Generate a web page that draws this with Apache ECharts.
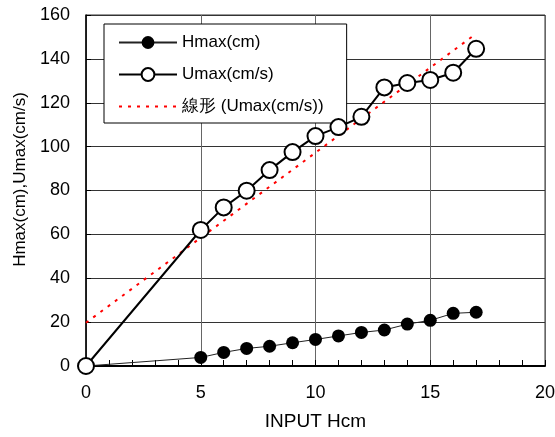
<!DOCTYPE html>
<html>
<head>
<meta charset="utf-8">
<script src="https://cdn.jsdelivr.net/npm/echarts@6/dist/echarts.min.js"></script>
<style>html,body{margin:0;padding:0;background:#fff}#c{width:555px;height:437px}</style>
</head>
<body>
<div id="c"></div>
<script>
const inputX = [0, 5, 6, 7, 8, 9, 10, 11, 12, 13, 14, 15, 16, 17];
const hmax = [0, 3.9, 6.2, 8.0, 9.0, 10.6, 12.1, 13.7, 15.3, 16.4, 19.1, 20.8, 24.0, 24.5];
const umax = [0, 62.0, 72.3, 79.9, 89.3, 97.5, 104.8, 108.9, 113.6, 127.0, 129.0, 130.4, 133.7, 144.6];
const trendX = [0, 17];
const trendY = [19.7, 151.5];
const seriesNames = ['Hmax(cm)', 'Umax(cm/s)', '線形 (Umax(cm/s))'];
const xTitle = 'INPUT Hcm';
const yTitle = 'Hmax(cm),Umax(cm/s)';

const pair = (xs, ys) => xs.map((x, i) => [x, ys[i]]);
const FONT = '"Liberation Sans", Arial, sans-serif';

const chart = echarts.init(document.getElementById('c'), null, {renderer: 'canvas'});
chart.setOption({
  animation: false,
  backgroundColor: '#fff',
  textStyle: {fontFamily: FONT},
  grid: {left: 86, right: 10, top: 15, bottom: 71, show: true, borderColor: '#333', borderWidth: 1,
         outerBoundsMode: 'none', containLabel: false},
  legend: {
    orient: 'vertical', left: 104, top: 24,
    data: seriesNames,
    backgroundColor: '#fff', borderColor: '#000', borderWidth: 1,
    padding: [10, 23, 8, 14],
    itemGap: 15, itemWidth: 58, itemHeight: 16,
    textStyle: {fontSize: 17, color: '#000', fontFamily: FONT}
  },
  xAxis: {
    type: 'value', min: 0, max: 20, interval: 5,
    name: xTitle, nameLocation: 'middle', nameGap: 46,
    nameTextStyle: {fontSize: 19, color: '#000', fontFamily: FONT},
    axisLine: {show: true, onZero: false, lineStyle: {color: '#000', width: 2}},
    axisTick: {show: true, inside: true, length: 6, lineStyle: {color: '#000'}},
    minorTick: {show: true, splitNumber: 5, length: 6, lineStyle: {color: '#000'}},
    axisLabel: {fontSize: 18, color: '#000', margin: 18, fontFamily: FONT},
    splitLine: {show: true, lineStyle: {color: '#666', width: 1}}
  },
  yAxis: {
    type: 'value', min: 0, max: 160, interval: 20,
    name: yTitle, nameLocation: 'middle', nameGap: 55,
    nameTextStyle: {fontSize: 17, color: '#000', fontFamily: FONT, padding: [0, 0, 0, 22]},
    axisLine: {show: true, onZero: false, lineStyle: {color: '#000', width: 1.5}},
    axisTick: {show: true, inside: true, length: 5, lineStyle: {color: '#000'}},
    axisLabel: {fontSize: 18, color: '#000', margin: 16, fontFamily: FONT},
    splitLine: {show: true, lineStyle: {color: '#333', width: 1}}
  },
  series: [
    {
      name: seriesNames[0], type: 'line', data: pair(inputX, hmax), z: 3,
      symbol: 'circle', symbolSize: 13,
      lineStyle: {color: '#222', width: 1},
      itemStyle: {color: '#000', borderColor: '#000', borderWidth: 0}
    },
    {
      name: seriesNames[2], type: 'line', data: pair(trendX, trendY), z: 4,
      symbol: 'circle', showSymbol: false, symbolSize: 0,
      lineStyle: {color: '#ff0000', width: 2, type: [3, 6]},
      itemStyle: {color: 'rgba(0,0,0,0)', borderWidth: 0}
    },
    {
      name: seriesNames[1], type: 'line', data: pair(inputX, umax), z: 5,
      symbol: 'circle', symbolSize: 16,
      lineStyle: {color: '#000', width: 2},
      itemStyle: {color: '#fff', borderColor: '#000', borderWidth: 2}
    }
  ]
});
</script>
</body>
</html>
